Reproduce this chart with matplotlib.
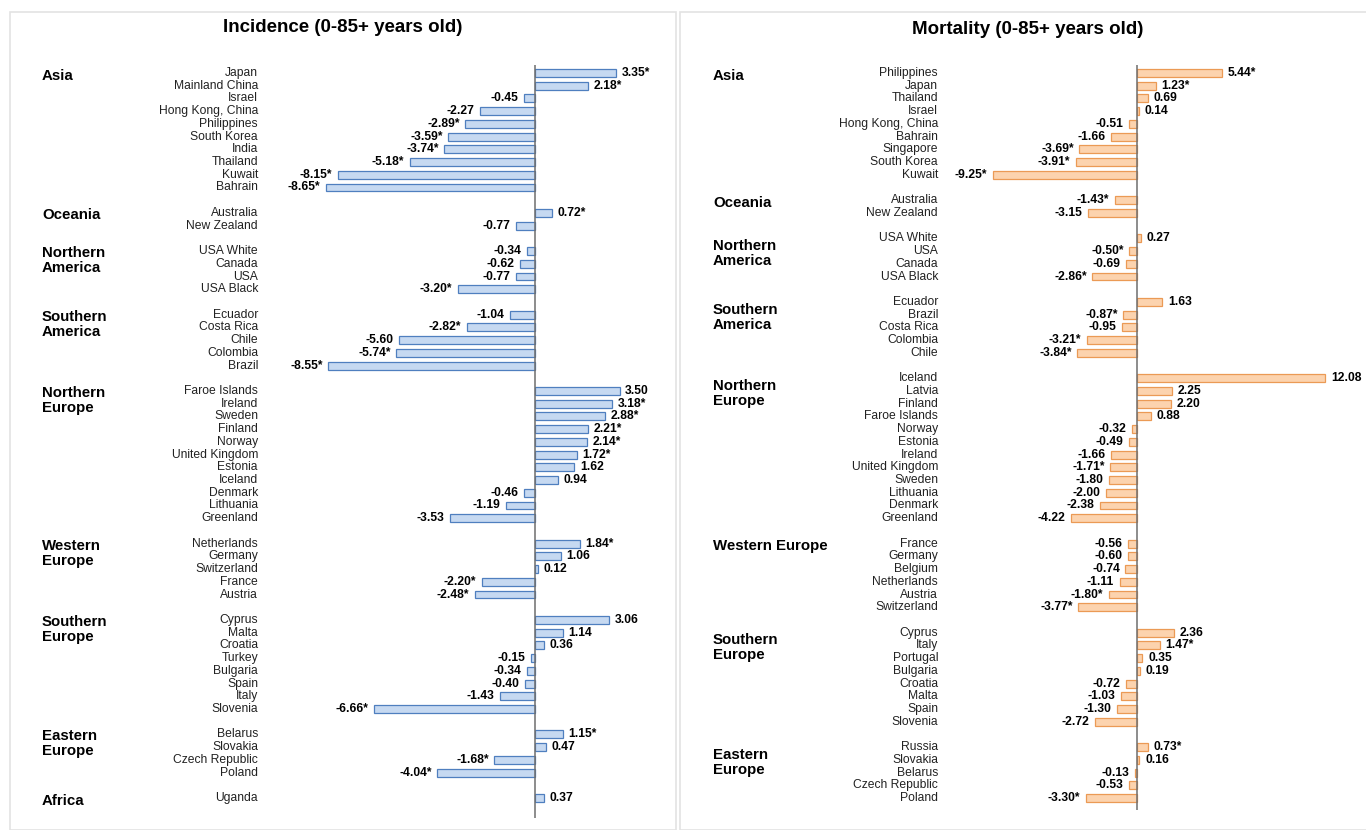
import matplotlib
matplotlib.use("Agg")
import matplotlib.pyplot as plt
import matplotlib.transforms as mtransforms
from matplotlib.patches import Rectangle

plt.rcParams['font.family'] = ['Liberation Sans', 'DejaVu Sans']

# ---------------- Data ----------------
inc_regions = ["Asia", "Oceania", "Northern\nAmerica", "Southern\nAmerica", "Northern\nEurope",
               "Western\nEurope", "Southern\nEurope", "Eastern\nEurope", "Africa"]
inc_countries = [
    ["Japan", "Mainland China", "Israel", "Hong Kong, China", "Philippines", "South Korea", "India",
     "Thailand", "Kuwait", "Bahrain"],
    ["Australia", "New Zealand"],
    ["USA White", "Canada", "USA", "USA Black"],
    ["Ecuador", "Costa Rica", "Chile", "Colombia", "Brazil"],
    ["Faroe Islands", "Ireland", "Sweden", "Finland", "Norway", "United Kingdom", "Estonia", "Iceland",
     "Denmark", "Lithuania", "Greenland"],
    ["Netherlands", "Germany", "Switzerland", "France", "Austria"],
    ["Cyprus", "Malta", "Croatia", "Turkey", "Bulgaria", "Spain", "Italy", "Slovenia"],
    ["Belarus", "Slovakia", "Czech Republic", "Poland"],
    ["Uganda"],
]
inc_values = [
    [3.35, 2.18, -0.45, -2.27, -2.89, -3.59, -3.74, -5.18, -8.15, -8.65],
    [0.72, -0.77],
    [-0.34, -0.62, -0.77, -3.20],
    [-1.04, -2.82, -5.60, -5.74, -8.55],
    [3.50, 3.18, 2.88, 2.21, 2.14, 1.72, 1.62, 0.94, -0.46, -1.19, -3.53],
    [1.84, 1.06, 0.12, -2.20, -2.48],
    [3.06, 1.14, 0.36, -0.15, -0.34, -0.40, -1.43, -6.66],
    [1.15, 0.47, -1.68, -4.04],
    [0.37],
]
inc_sig = [
    [1, 1, 0, 0, 1, 1, 1, 1, 1, 1],
    [1, 0],
    [0, 0, 0, 1],
    [0, 1, 0, 1, 1],
    [0, 1, 1, 1, 1, 1, 0, 0, 0, 0, 0],
    [1, 0, 0, 1, 1],
    [0, 0, 0, 0, 0, 0, 0, 1],
    [1, 0, 1, 1],
    [0],
]

mor_regions = ["Asia", "Oceania", "Northern\nAmerica", "Southern\nAmerica", "Northern\nEurope",
               "Western Europe", "Southern\nEurope", "Eastern\nEurope"]
mor_countries = [
    ["Philippines", "Japan", "Thailand", "Israel", "Hong Kong, China", "Bahrain", "Singapore",
     "South Korea", "Kuwait"],
    ["Australia", "New Zealand"],
    ["USA White", "USA", "Canada", "USA Black"],
    ["Ecuador", "Brazil", "Costa Rica", "Colombia", "Chile"],
    ["Iceland", "Latvia", "Finland", "Faroe Islands", "Norway", "Estonia", "Ireland", "United Kingdom",
     "Sweden", "Lithuania", "Denmark", "Greenland"],
    ["France", "Germany", "Belgium", "Netherlands", "Austria", "Switzerland"],
    ["Cyprus", "Italy", "Portugal", "Bulgaria", "Croatia", "Malta", "Spain", "Slovenia"],
    ["Russia", "Slovakia", "Belarus", "Czech Republic", "Poland"],
]
mor_values = [
    [5.44, 1.23, 0.69, 0.14, -0.51, -1.66, -3.69, -3.91, -9.25],
    [-1.43, -3.15],
    [0.27, -0.50, -0.69, -2.86],
    [1.63, -0.87, -0.95, -3.21, -3.84],
    [12.08, 2.25, 2.20, 0.88, -0.32, -0.49, -1.66, -1.71, -1.80, -2.00, -2.38, -4.22],
    [-0.56, -0.60, -0.74, -1.11, -1.80, -3.77],
    [2.36, 1.47, 0.35, 0.19, -0.72, -1.03, -1.30, -2.72],
    [0.73, 0.16, -0.13, -0.53, -3.30],
]
mor_sig = [
    [1, 1, 0, 0, 0, 0, 1, 1, 1],
    [1, 0],
    [0, 1, 0, 1],
    [0, 1, 0, 1, 1],
    [0, 0, 0, 0, 0, 0, 0, 1, 0, 0, 0, 0],
    [0, 0, 0, 0, 1, 1],
    [0, 1, 0, 0, 0, 0, 0, 0],
    [1, 0, 0, 0, 1],
]

W, H = 1366, 830
fig = plt.figure(figsize=(W / 100, H / 100), dpi=100)
fig.patch.set_facecolor("white")

# panel borders
fig.add_artist(Rectangle((10 / W, 0), 666 / W, 1 - 12 / H, transform=fig.transFigure,
                         fill=False, edgecolor="#e3e3e3", lw=1.2))
fig.add_artist(Rectangle((680 / W, 0), 690 / W, 1 - 12 / H, transform=fig.transFigure,
                         fill=False, edgecolor="#e3e3e3", lw=1.2))


def make_panel(x0, x1, zero_px, px_per_unit, regions, countries, values, sig,
               label_x_px, region_x_px, face, edge, title, title_x_px, title_y_px, line_bottom_px,
               multi_off):
    y_top_px, y_bot_px = 60, 825
    row0_px, row_h = 73, 12.72
    ax = fig.add_axes([x0 / W, 1 - y_bot_px / H, (x1 - x0) / W, (y_bot_px - y_top_px) / H])
    ax.set_xlim((x0 - zero_px) / px_per_unit, (x1 - zero_px) / px_per_unit)
    ax.set_ylim((y_bot_px - row0_px) / row_h, (y_top_px - row0_px) / row_h)
    ax.axis("off")
    trans_lab = mtransforms.blended_transform_factory(fig.transFigure, ax.transData)

    row = 0
    for reg, cs, vs, ss in zip(regions, countries, values, sig):
        if "\n" in reg:
            ax.text(region_x_px / W, row + multi_off, reg, transform=trans_lab,
                    ha="left", va="top", fontsize=10.8, fontweight="bold", linespacing=1.1)
        else:
            ax.text(region_x_px / W, row + 0.2, reg, transform=trans_lab,
                    ha="left", va="center", fontsize=10.8, fontweight="bold")
        for c, v, s in zip(cs, vs, ss):
            ax.barh(row, v, height=0.62, color=face, edgecolor=edge, linewidth=0.9)
            ax.text(label_x_px / W, row, c, transform=trans_lab, ha="right", va="center",
                    fontsize=8.7, color="#222222")
            lab = f"{v:.2f}" + ("*" if s else "")
            if v >= 0:
                ax.annotate(lab, (v, row), xytext=(4, 0), textcoords="offset points",
                            ha="left", va="center", fontsize=8.7, fontweight="bold")
            else:
                ax.annotate(lab, (v, row), xytext=(-4, 0), textcoords="offset points",
                            ha="right", va="center", fontsize=8.7, fontweight="bold")
            row += 1
        row += 1
    ax.plot([0, 0], [(65 - row0_px) / row_h, (line_bottom_px - row0_px) / row_h],
            color="#6e6e6e", lw=1.1, solid_capstyle="butt")
    fig.text(title_x_px / W, 1 - title_y_px / H, title, ha="center", va="center",
             fontsize=13.5, fontweight="bold")
    return ax


make_panel(265, 672, 535, 24.2, inc_regions, inc_countries, inc_values, inc_sig,
           258, 42, "#c6d9f1", "#4f7fbf", "Incidence (0-85+ years old)", 343, 27, 818, -0.4)
make_panel(945, 1364, 1137, 15.6, mor_regions, mor_countries, mor_values, mor_sig,
           938, 713, "#fcd3ae", "#eb9a55", "Mortality (0-85+ years old)", 1028, 30, 810, 0.05)

fig.savefig("out.png", dpi=100, facecolor="white")
